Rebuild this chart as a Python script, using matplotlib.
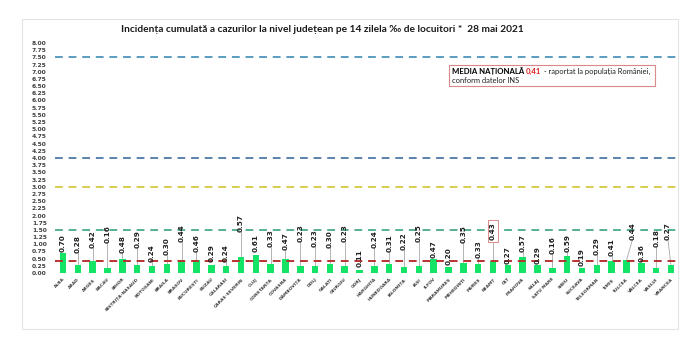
import matplotlib
matplotlib.use("Agg")
import matplotlib.pyplot as plt
from matplotlib.patches import Rectangle

counties = ["ALBA", "ARAD", "ARGEȘ", "BACĂU", "BIHOR", "BISTRIȚA-NĂSĂUD", "BOTOȘANI",
            "BRĂILA", "BRAȘOV", "BUCUREȘTI", "BUZĂU", "CĂLĂRAȘI", "CARAȘ-SEVERIN", "CLUJ",
            "CONSTANȚA", "COVASNA", "DÂMBOVIȚA", "DOLJ", "GALAȚI", "GIURGIU", "GORJ",
            "HARGHITA", "HUNEDOARA", "IALOMIȚA", "IAȘI", "ILFOV", "MARAMUREȘ", "MEHEDINȚI",
            "MUREȘ", "NEAMȚ", "OLT", "PRAHOVA", "SĂLAJ", "SATU MARE", "SIBIU", "SUCEAVA",
            "TELEORMAN", "TIMIȘ", "TULCEA", "VÂLCEA", "VASLUI", "VRANCEA"]
values = [0.70, 0.28, 0.42, 0.16, 0.48, 0.29, 0.24, 0.30, 0.44, 0.46, 0.29, 0.24, 0.57,
          0.61, 0.33, 0.47, 0.23, 0.23, 0.30, 0.23, 0.11, 0.24, 0.31, 0.22, 0.25, 0.47,
          0.20, 0.35, 0.33, 0.43, 0.27, 0.57, 0.29, 0.16, 0.59, 0.19, 0.29, 0.41, 0.44,
          0.36, 0.18, 0.27]
national_avg = 0.41
threshold_lines = [7.5, 4.0, 3.0, 1.5]
threshold_colors = ["#5a9cc0", "#5a82ab", "#d8cc50", "#55b08e"]
title = "Incidența cumulată a cazurilor la nivel județean pe 14 zilela ‰ de locuitori *  28 mai 2021"

# label layout (bottom of rotated label, data units) and small x shifts
label_y = [0.73, 0.70, 0.87, 1.04, 0.70, 0.87, 0.38, 0.63, 1.08, 0.73, 0.38, 0.38, 1.43,
           0.73, 0.90, 0.80, 1.08, 0.90, 0.87, 1.08, 0.21, 0.87, 0.73, 0.80, 1.08, 0.52,
           0.28, 1.04, 0.52, 1.15, 0.33, 0.73, 0.33, 0.66, 0.73, 0.23, 0.63, 0.59, 1.15,
           0.40, 0.90, 1.15]
label_dx = [0] * 42
label_dx[38] = 0.4
label_dx[41] = -0.2

fig = plt.figure(figsize=(7, 3.6), dpi=100)
fig.patches.append(Rectangle((22 / 700, 1 - 329 / 360), 656 / 700, 310 / 360,
                             transform=fig.transFigure, fill=False,
                             edgecolor="#e4e4e4", lw=0.8))
ax = fig.add_axes([55 / 700, 1 - 273 / 360, 621 / 700, 230 / 360])
x = list(range(len(counties)))
ax.bar(x, values, width=0.44, color="#14e466", zorder=2)
for yv, c in zip(threshold_lines, threshold_colors):
    ax.axhline(yv, color=c, lw=1.4, dashes=(4, 3), zorder=1)
ax.axhline(national_avg, color="#b83232", lw=1.4, dashes=(4, 3), zorder=3)

for i, (v, ly, dx) in enumerate(zip(values, label_y, label_dx)):
    if ly - v > 0.12:
        ax.plot([i, i + dx], [v, ly], color="#a8a8a8", lw=0.6, zorder=1.5)
    t = ax.text(i + dx, ly, f"{v:.2f}", rotation=90, ha="center", va="bottom",
                fontsize=5.2, fontweight="bold", color="#202020", zorder=4)
    if counties[i] == "NEAMȚ":
        t.set_bbox(dict(boxstyle="square,pad=0.25", fc="white", ec="#d88a8a", lw=0.7))

ax.set_xlim(-0.54, 41.34)
ax.set_ylim(0, 8)
ax.set_yticks([i * 0.25 for i in range(33)])
ax.set_yticklabels([f"{i * 0.25:.2f}" for i in range(33)], fontsize=4.3,
                   fontweight="bold", color="#404040")
ax.tick_params(axis="y", length=0, pad=6)
ax.set_xticks(x)
ax.set_xticklabels(counties, rotation=45, ha="right", rotation_mode="anchor",
                   fontsize=3.2, color="#404040", fontweight="bold")
ax.tick_params(axis="x", length=0, pad=3)
for s in ax.spines.values():
    s.set_visible(False)

fig.text(0.461, 1 - 30 / 360, title, ha="center", va="center", fontsize=7.3,
         fontweight="bold", family=["Lato", "DejaVu Sans"], color="#1a1a1a")

# info box
fig.patches.append(Rectangle((449 / 700, 1 - 86 / 360), 206 / 700, 21 / 360,
                             transform=fig.transFigure, fill=False,
                             edgecolor="#d88a8a", lw=0.8))
t1 = fig.text(452 / 700, 1 - 71 / 360, "MEDIA NAȚIONALĂ ", fontsize=5.6,
              fontweight="bold", color="black", va="center", family=["Lato", "DejaVu Sans"])
fig.canvas.draw()
bb = t1.get_window_extent()
t2 = fig.text(bb.x1 / 700, 1 - 71 / 360, "0,41", fontsize=5.6, fontweight="bold",
              color="#e02020", va="center", family=["Lato", "DejaVu Sans"])
fig.canvas.draw()
bb2 = t2.get_window_extent()
fig.text(bb2.x1 / 700, 1 - 71 / 360, " - raportat la populația României,", fontsize=5.4,
         color="#202020", va="center", family=["Lato", "DejaVu Sans"])
fig.text(452 / 700, 1 - 80.5 / 360, "conform datelor INS", fontsize=5.4,
         color="#202020", va="center", family=["Lato", "DejaVu Sans"])

fig.savefig("out.png", dpi=100)
